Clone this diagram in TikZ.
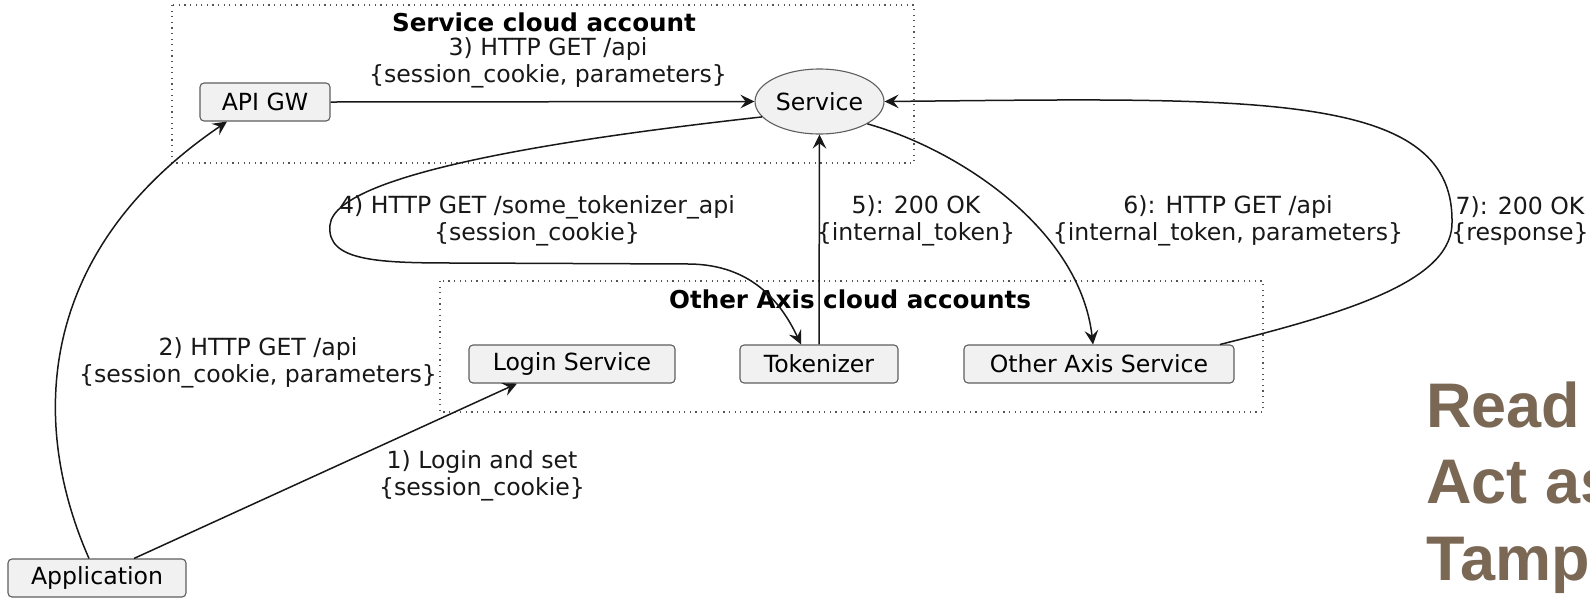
\documentclass[tikz,border=0pt]{standalone}
\usepackage{fontspec}
\setmainfont{DejaVu Sans}
\newfontfamily\bigfont{Liberation Sans}
\usetikzlibrary{arrows.meta,shapes.geometric,calc}
\definecolor{boxfill}{HTML}{F1F1F1}
\definecolor{boxline}{HTML}{5E5E5E}
\definecolor{edgecol}{HTML}{181818}
\definecolor{framecol}{HTML}{555555}
\definecolor{brownish}{RGB}{122,104,85}
\newcommand\lblfont{\fontsize{11.8}{13.2}\selectfont}
\newcommand\ttlfont{\fontsize{12.3}{14}\selectfont\bfseries}
\begin{document}
\begin{tikzpicture}[x=0.5pt,y=-0.5pt,
  comp/.style={draw=boxline, fill=boxfill, rounded corners=2pt, line width=0.55pt,
    inner sep=0pt, minimum height=19pt, font=\lblfont},
  ell/.style={draw=boxline, fill=boxfill, ellipse, line width=0.55pt, inner sep=0pt,
    minimum width=64.5pt, minimum height=32.5pt, font=\lblfont},
  frame/.style={draw=framecol, line width=0.6pt, dash pattern=on 0.6pt off 2.2pt},
  ttl/.style={font=\ttlfont, inner sep=0pt},
  lbl/.style={font=\lblfont, align=center, inner sep=0pt, text=edgecol},
  edge/.style={draw=edgecol, line width=0.75pt,
    -{Stealth[length=7pt,width=6.8pt,inset=2.6pt]}},
  big/.style={font=\bigfont\fontsize{31.5}{38}\selectfont\bfseries, text=brownish,
    anchor=base west, inner sep=0pt}
]
\useasboundingbox (0,0) rectangle (1590,601);
\fill[white] (0,0) rectangle (1590,601);

% frames
\draw[frame] (172,5) rectangle (914,163);
\draw[frame] (440,281) rectangle (1263,412);
\node[ttl] (t1) at (544,22) {Service cloud account};
\node[ttl] (t2) at (850,299) {Other Axis cloud accounts};

% components
\node[comp, minimum width=65pt] (apigw) at (265,102) {API GW};
\node[ell] (svc) at (819.5,101.5) {Service};
\node[comp, minimum width=103pt] (login) at (572,364) {Login Service};
\node[comp, minimum width=79pt] (tok) at (819,364) {Tokenizer};
\node[comp, minimum width=135pt] (oas) at (1099,364) {Other Axis Service};
\node[comp, minimum width=89pt] (app) at (97,578) {Application};

% connectors
\draw[edge] ($(app.north)+(37,0)$) -- ($(login.south)+(-55,0)$);
\draw[edge] ($(app.north)+(-8,0)$) .. controls (28,420) and (38,250) .. ($(apigw.south)+(-38,0)$);
\draw[edge] (apigw.east) -- (svc.west);
\draw[edge] (svc.195) .. controls (600,135) and (335,170) .. (330,225)
  .. controls (326,262) and (380,263) .. (460,263)
  -- (690,264)
  .. controls (750,265) and (780,300) .. ($(tok.north)+(-18,0)$);
\draw[edge] (tok.north) -- (svc.south);
\draw[edge] (svc.-25) .. controls (960,150) and (1080,230) .. ($(oas.north)+(-6,0)$);
\draw[edge] ($(oas.north)+(121,0)$) .. controls (1350,312) and (1455,280) .. (1452,220)
  .. controls (1452,90) and (1250,98) .. (svc.east);

% labels
\node[lbl] (l3) at (548,63) {3) HTTP GET /api\\\{session\_cookie, parameters\}};
\node[lbl] (l4) at (537,221) {4) HTTP GET /some\_tokenizer\_api\\\{session\_cookie\}};
\node[lbl] (l5) at (916,221) {5): 200 OK\\\{internal\_token\}};
\node[lbl] (l6) at (1228,221) {6): HTTP GET /api\\\{internal\_token, parameters\}};
\node[lbl] (l7) at (1520,221) {7): 200 OK\\\{response\}};
\node[lbl] (l2) at (258,363) {2) HTTP GET /api\\\{session\_cookie, parameters\}};
\node[lbl] (l1) at (482,476) {1) Login and set\\\{session\_cookie\}};

% right side text (cut off at the page edge, as in the reference)
\begin{scope}
\clip (0,0) rectangle (1590,601);
\node[big] (r1) at (1426,427) {Read};
\node[big] (r2) at (1426,503) {Act as};
\node[big] (r3) at (1426,580) {Tamp};
\end{scope}
\end{tikzpicture}
\end{document}
